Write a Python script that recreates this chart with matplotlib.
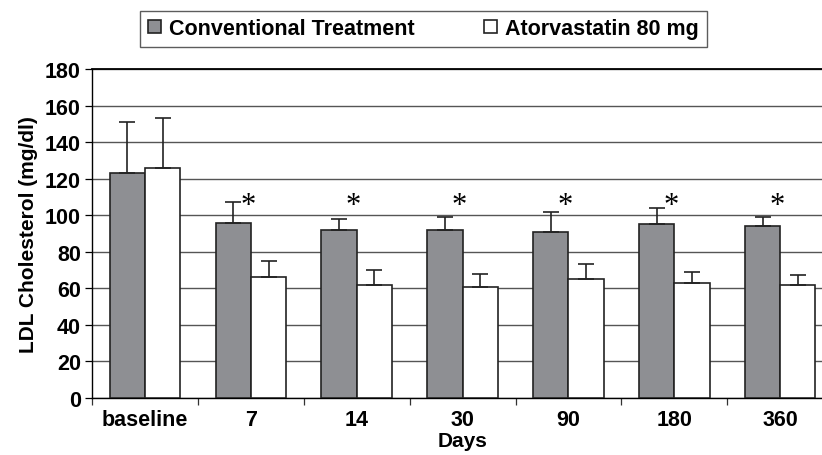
import numpy as np
import matplotlib.pyplot as plt

# ── data ────────────────────────────────────────────────────────────────────
days = ["baseline", "7", "14", "30", "90", "180", "360"]
conventional = [123, 96, 92, 92, 91, 95, 94]
conventional_sd = [28, 11, 6, 7, 11, 9, 5]
atorvastatin = [126, 66, 62, 61, 65, 63, 62]
atorvastatin_sd = [27, 9, 8, 7, 8.5, 6, 5.5]
significant = [False, True, True, True, True, True, True]

plt.rcParams["font.family"] = ["Liberation Sans", "DejaVu Sans"]
plt.rcParams["font.weight"] = "bold"

fig = plt.figure(figsize=(8.22, 4.56), dpi=100)
ax = fig.add_axes([0.112, 0.125, 0.9015, 0.7215])

x = np.arange(len(days))
w = 1 / 3

ax.bar(x - w / 2, conventional, w, color="#8e8f93", edgecolor="#222222",
       linewidth=1.2, zorder=3, label="Conventional Treatment")
ax.bar(x + w / 2, atorvastatin, w, color="white", edgecolor="#222222",
       linewidth=1.2, zorder=3, label="Atorvastatin 80 mg")

ax.errorbar(x - w / 2, conventional, yerr=[np.zeros(len(x)), conventional_sd],
            fmt="none", ecolor="#222222", elinewidth=1.2, capsize=5.5,
            capthick=1.2, zorder=4)
ax.errorbar(x + w / 2, atorvastatin, yerr=[np.zeros(len(x)), atorvastatin_sd],
            fmt="none", ecolor="#222222", elinewidth=1.2, capsize=5.5,
            capthick=1.2, zorder=4)

for xi, sig in zip(x, significant):
    if sig:
        ax.text(xi - 0.03, 105.5, "*", ha="center", va="center", fontsize=22,
                family="Liberation Serif", fontweight="normal", zorder=5)

ax.set_xlim(-0.5, len(days) - 0.5)
ax.set_ylim(0, 180)
ax.set_yticks(range(0, 181, 20))
ax.set_xticks(x)
ax.set_xticklabels(days)
ax.set_xticks(np.arange(-0.5, len(days) - 0.4, 1), minor=True)
ax.tick_params(axis="x", which="major", length=0, pad=8, labelsize=15.5)
ax.tick_params(axis="x", which="minor", length=5, width=0.9, color="#333333")
ax.tick_params(axis="y", length=5, width=0.9, labelsize=15.5, pad=3)

ax.yaxis.grid(True, color="#555555", linewidth=1.0, zorder=0)
ax.set_axisbelow(True)
ax.spines["right"].set_visible(False)
ax.spines["top"].set_linewidth(1.3)
ax.spines["left"].set_linewidth(1.0)
ax.spines["bottom"].set_linewidth(1.0)

ax.set_xlabel("Days", fontsize=15, fontweight="bold", labelpad=1)
ax.set_ylabel("LDL Cholesterol (mg/dl)", fontsize=15, fontweight="bold", labelpad=5)

leg = fig.legend(loc="center", bbox_to_anchor=(0.515, 0.935), ncol=2,
                 frameon=True, fancybox=False, edgecolor="#333333",
                 fontsize=15.5, handlelength=0.6, handleheight=0.6,
                 handletextpad=0.4, columnspacing=3.2, borderpad=0.35,
                 borderaxespad=0)
leg.get_frame().set_linewidth(1.0)

fig.savefig("out.png", dpi=100)
